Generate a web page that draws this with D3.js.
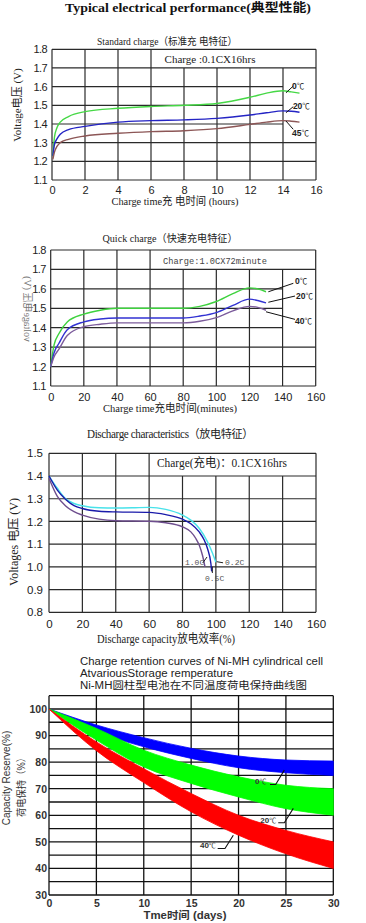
<!DOCTYPE html>
<html>
<head>
<meta charset="utf-8">
<script src="https://cdn.jsdelivr.net/npm/d3@7"></script>
<style>
    body { margin: 0; background: #fff; }
    svg { display: block; }
</style>
</head>
<body>
<svg id="sheet" width="366" height="923"></svg>
<script>
const SERIF = '"Liberation Serif", "Times New Roman", "Noto Sans CJK SC", serif';
const SANS = '"Liberation Sans", Arial, "Noto Sans CJK SC", sans-serif';
const MONO = '"Liberation Mono", "Courier New", "Noto Sans CJK SC", monospace';

// ---- standard charge (hours -> V)
const stdHours = [0.05, 0.15, 0.3, 0.5, 1, 2, 4, 6, 8, 10, 12, 13, 14, 14.5, 15];
const std0C  = [1.23, 1.33, 1.38, 1.41, 1.44, 1.466, 1.484, 1.494, 1.50, 1.51, 1.543, 1.565, 1.578, 1.572, 1.565];
const std20C = [1.23, 1.29, 1.32, 1.345, 1.37, 1.387, 1.41, 1.418, 1.422, 1.43, 1.448, 1.46, 1.47, 1.468, 1.463];
const std45C = [1.21, 1.25, 1.28, 1.30, 1.318, 1.336, 1.35, 1.359, 1.364, 1.375, 1.398, 1.41, 1.418, 1.415, 1.41];
const hourTicks = [0, 2, 4, 6, 8, 10, 12, 14, 16];
const voltTicks = [1.1, 1.2, 1.3, 1.4, 1.5, 1.6, 1.7, 1.8];

// ---- quick charge (minutes -> V)
const quickMin = [0, 2, 5, 10, 20, 30, 40, 60, 80, 90, 100, 110, 120, 125, 130];
const quick0C  = [1.2, 1.31, 1.37, 1.43, 1.47, 1.49, 1.5, 1.5, 1.5, 1.51, 1.535, 1.575, 1.605, 1.60, 1.585];
const quick20C = [1.2, 1.27, 1.32, 1.39, 1.43, 1.445, 1.45, 1.45, 1.45, 1.46, 1.478, 1.515, 1.547, 1.54, 1.528];
const quick40C = [1.2, 1.25, 1.29, 1.36, 1.405, 1.418, 1.425, 1.425, 1.425, 1.433, 1.452, 1.487, 1.51, 1.505, 1.49];
const minuteTicks = [0, 20, 40, 60, 80, 100, 120, 140, 160];

// ---- discharge (% capacity -> V)
const dis02Cap = [0, 5, 10, 15, 20, 30, 40, 50, 60, 70, 80, 85, 90, 95, 98, 100];
const dis02V   = [1.40, 1.346, 1.30, 1.279, 1.269, 1.26, 1.259, 1.26, 1.262, 1.253, 1.228, 1.206, 1.17, 1.11, 1.06, 1.02];
const dis05Cap = [0, 5, 10, 15, 20, 30, 40, 60, 70, 80, 85, 90, 93, 95, 97, 97.5];
const dis05V   = [1.40, 1.338, 1.297, 1.27, 1.257, 1.245, 1.242, 1.24, 1.23, 1.21, 1.19, 1.154, 1.118, 1.08, 1.015, 0.98];
const dis10Cap = [0, 5, 10, 15, 20, 30, 40, 60, 70, 80, 85, 88, 90, 92, 93.5];
const dis10V   = [1.39, 1.31, 1.268, 1.243, 1.228, 1.21, 1.203, 1.201, 1.194, 1.176, 1.154, 1.125, 1.096, 1.05, 1.0];
const dischargeVTicks = [0.8, 0.9, 1.0, 1.1, 1.2, 1.3, 1.4, 1.5];

// ---- charge retention (days -> %), bands hi/lo
const retDays = [0, 5, 10, 15, 20, 25, 30];
const ret0Hi  = [100, 94.0, 89.2, 85.2, 82.3, 80.8, 80.4];
const ret0Lo  = [100, 91.4, 85.8, 81.4, 77.9, 76.0, 75.0];
const ret20Hi = [100, 92.7, 84.5, 78.9, 74.5, 71.3, 70.0];
const ret20Lo = [100, 88.3, 78.2, 72.0, 66.9, 62.5, 60.0];
const ret40Hi = [100, 87.6, 77.5, 68.2, 60.0, 54.3, 50.0];
const ret40Lo = [100, 84.3, 72.3, 61.3, 52.5, 45.5, 40.0];
const dayTicks = [0, 5, 10, 15, 20, 25, 30];
const pctTicks = [30, 40, 50, 60, 70, 80, 90, 100];

let svg = d3.select("#sheet");

function zip(xs, ys) {
    return xs.map(function(v, i) { return [v, ys[i]]; });
}

// grid: h = [value, right end], v = [value, top end]
function drawPanel(cfg) {
    let x = d3.scaleLinear().domain(cfg.xDomain).range(cfg.xRange);
    let y = d3.scaleLinear().domain(cfg.yDomain).range(cfg.yRange);
    let g = svg.append("g").attr("id", cfg.id);

    g.selectAll("line.h").data(cfg.hGrid).enter().append("line")
        .attr("class", "h")
        .attr("x1", x(cfg.xDomain[0]))
        .attr("x2", function(d) { return x(d[1]); })
        .attr("y1", function(d) { return y(d[0]); })
        .attr("y2", function(d) { return y(d[0]); })
        .attr("stroke", cfg.gridColor)
        .attr("stroke-width", cfg.gridWidth);

    g.selectAll("line.v").data(cfg.vGrid).enter().append("line")
        .attr("class", "v")
        .attr("x1", function(d) { return x(d[0]); })
        .attr("x2", function(d) { return x(d[0]); })
        .attr("y1", function(d) { return y(d[1]); })
        .attr("y2", y(cfg.yDomain[0]))
        .attr("stroke", cfg.gridColor)
        .attr("stroke-width", cfg.gridWidth);

    let yAxis = d3.axisLeft(y).tickValues(cfg.yTicks).tickSize(0)
        .tickPadding(cfg.yPad).tickFormat(cfg.yFormat);
    let yg = g.append("g")
        .attr("transform", "translate(" + x(cfg.xDomain[0]) + ",0)")
        .call(yAxis);
    yg.select(".domain").remove();

    let xAxis = d3.axisBottom(x).tickValues(cfg.xTicks).tickSize(0)
        .tickPadding(cfg.xPad).tickFormat(d3.format("d"));
    let xg = g.append("g")
        .attr("transform", "translate(0," + y(cfg.yDomain[0]) + ")")
        .call(xAxis);
    xg.select(".domain").remove();

    [yg, xg].forEach(function(ag) {
        ag.attr("font-family", SANS).attr("font-size", cfg.tickSize);
        ag.selectAll("text").attr("fill", cfg.tickColor).attr("font-weight", cfg.tickWeight || "normal");
    });
    if (cfg.yLetter) yg.selectAll("text").attr("letter-spacing", cfg.yLetter);

    return {x: x, y: y, g: g};
}

function drawCurves(p, series) {
    let line = d3.line()
        .x(function(d) { return p.x(d[0]); })
        .y(function(d) { return p.y(d[1]); })
        .curve(d3.curveMonotoneX);
    p.g.selectAll("path.curve").data(series).enter().append("path")
        .attr("class", "curve")
        .attr("d", function(s) { return line(s.pts); })
        .attr("fill", "none")
        .attr("stroke", function(s) { return s.color; })
        .attr("stroke-width", 1.4);
}

function drawLeaders(p, notes, opts) {
    let line = d3.line()
        .x(function(d) { return p.x(d[0]); })
        .y(function(d) { return p.y(d[1]); });
    notes.forEach(function(n) {
        p.g.append("path")
            .attr("d", line(n.leader))
            .attr("fill", "none")
            .attr("stroke", opts.lineColor)
            .attr("stroke-width", opts.lineWidth);
        let t = p.g.append("text")
            .attr("x", p.x(n.at[0]))
            .attr("y", p.y(n.at[1]))
            .attr("font-family", opts.font)
            .attr("font-size", opts.size)
            .attr("fill", opts.color);
        t.append("tspan").attr("font-weight", opts.weight).text(n.num);
        if (n.unit) t.append("tspan").attr("font-weight", "normal").attr("font-size", opts.size - 1).text(n.unit);
    });
}

function label(txt, x, y, o) {
    let t = svg.append("text")
        .attr("x", x).attr("y", y)
        .attr("font-family", o.font || SERIF)
        .attr("font-size", o.size || 11)
        .attr("fill", o.color || "#222")
        .attr("font-weight", o.weight || "normal")
        .attr("text-anchor", o.anchor || "middle")
        .text(txt);
    if (o.rotate) t.attr("transform", "translate(" + x + "," + y + ") rotate(" + o.rotate + ")" + (o.flip ? " scale(1,-1)" : ""))
        .attr("x", 0).attr("y", 0);
    if (o.len) t.attr("textLength", o.len).attr("lengthAdjust", "spacingAndGlyphs");
    if (o.spacing) t.attr("letter-spacing", o.spacing);
    return t;
}

// page title
label("Typical electrical performance(典型性能)", 188, 12, {size: 12.5, weight: "bold", color: "#111", len: 246});

// ===== 1. standard charge
let p1 = drawPanel({
    id: "std",
    xDomain: [0, 16], xRange: [52, 316],
    yDomain: [1.1, 1.8], yRange: [180, 49.3],
    hGrid: [[1.1, 16], [1.2, 16], [1.3, 16], [1.4, 14], [1.5, 14], [1.6, 14], [1.7, 16], [1.8, 16]],
    vGrid: [[0, 1.8], [2, 1.8], [4, 1.8], [6, 1.8], [8, 1.7], [10, 1.7], [12, 1.7], [14, 1.7], [16, 1.8]],
    gridColor: "#2a2a2a", gridWidth: 1.2,
    xTicks: hourTicks, yTicks: voltTicks, yFormat: d3.format(".1f"),
    xPad: 6, yPad: 5, tickSize: 11, tickColor: "#222", yLetter: -0.6
});
drawCurves(p1, [
    {pts: zip(stdHours, std0C), color: "#46d846"},
    {pts: zip(stdHours, std20C), color: "#2424c4"},
    {pts: zip(stdHours, std45C), color: "#8c5656"}
]);
drawLeaders(p1, [
    {num: "0", unit: "℃", at: [14.55, 1.587], leader: [[14.18, 1.567], [14.62, 1.603]]},
    {num: "20", unit: "℃", at: [14.6, 1.48], leader: [[14.18, 1.4605], [14.62, 1.4926]]},
    {num: "45", unit: "℃", at: [14.55, 1.336], leader: [[14.18, 1.416], [14.62, 1.3716]]}
], {font: SANS, size: 8.5, weight: "bold", color: "#222", lineColor: "#111", lineWidth: 1});
label("Standard charge（标准充 电特征）", 167, 44.5, {size: 10.5, len: 140});
label("Charge :0.1CX16hrs", 210, 63, {size: 11});
label("Voltage电压 (V)", 21, 105, {size: 11, rotate: -90});
label("Charge time充 电时间 (hours)", 175, 205, {size: 11, len: 127});

// ===== 2. quick charge
let p2 = drawPanel({
    id: "quick",
    xDomain: [0, 160], xRange: [50.7, 315.7],
    yDomain: [1.1, 1.8], yRange: [386, 250],
    hGrid: [[1.1, 160], [1.2, 160], [1.3, 160], [1.4, 140], [1.5, 140], [1.6, 140], [1.7, 160], [1.8, 160]],
    vGrid: [[0, 1.8], [20, 1.8], [40, 1.8], [60, 1.8], [80, 1.7], [100, 1.7], [120, 1.7], [140, 1.7], [160, 1.8]],
    gridColor: "#2a2a2a", gridWidth: 1.2,
    xTicks: minuteTicks, yTicks: voltTicks, yFormat: d3.format(".1f"),
    xPad: 7, yPad: 5, tickSize: 11, tickColor: "#222", yLetter: -0.6
});
drawCurves(p2, [
    {pts: zip(quickMin, quick0C), color: "#3ed23e"},
    {pts: zip(quickMin, quick20C), color: "#3232d2"},
    {pts: zip(quickMin, quick40C), color: "#7c5c9c"}
]);
drawLeaders(p2, [
    {num: "0", unit: "℃", at: [147.5, 1.623], leader: [[131.4, 1.585], [146.5, 1.6286]]},
    {num: "20", unit: "℃", at: [148.1, 1.548], leader: [[131.4, 1.531], [147.5, 1.563]]},
    {num: "40", unit: "℃", at: [147.5, 1.419], leader: [[130, 1.482], [147.5, 1.443]]}
], {font: SANS, size: 8.5, weight: "bold", color: "#222", lineColor: "#111", lineWidth: 1});
label("Quick charge（快速充电特征）", 170, 241.5, {size: 10.5, len: 135});
label("Charge:1.0CX72minute", 215, 264, {font: MONO, size: 8.8, color: "#444", len: 104});
label("voltage电压 (V)", 24, 309, {size: 10, color: "#777", rotate: -90, flip: true});
label("Charge time充电时间(minutes)", 170, 411.5, {size: 11, len: 134});

// ===== 3. discharge
let p3 = drawPanel({
    id: "discharge",
    xDomain: [0, 160], xRange: [49, 316],
    yDomain: [0.8, 1.5], yRange: [612.3, 453.3],
    hGrid: dischargeVTicks.map(function(v) { return [v, 160]; }),
    vGrid: [[0, 1.5], [20, 1.5], [40, 1.5], [60, 1.5], [80, 1.4], [100, 1.4], [120, 1.4], [140, 1.4], [160, 1.5]],
    gridColor: "#2a2a2a", gridWidth: 1.2,
    xTicks: minuteTicks, yTicks: dischargeVTicks, yFormat: d3.format(".1f"),
    xPad: 8, yPad: 6, tickSize: 11.5, tickColor: "#222"
});
drawCurves(p3, [
    {pts: zip(dis02Cap, dis02V), color: "#48e2ea"},
    {pts: zip(dis05Cap, dis05V), color: "#1a1aaa"},
    {pts: zip(dis10Cap, dis10V), color: "#6e4e8e"}
]);
drawLeaders(p3, [
    {num: "1.0C", at: [81.5, 1.008], leader: [[92.1, 1.017], [94.7, 1.0435]]},
    {num: "0.5C", at: [93.5, 0.938], leader: [[97.9, 1.0008], [97.9, 0.973]]},
    {num: "0.2C", at: [105.5, 1.008], leader: [[100.5, 1.0228], [104.3, 1.018]]}
], {font: MONO, size: 8, weight: "normal", color: "#555", lineColor: "#222", lineWidth: 1});
label("Discharge characteristics（放电特征）", 170, 438, {size: 11.5, len: 166, spacing: -0.4});
label("Charge(充电)：0.1CX16hrs", 222, 466.5, {size: 12, len: 130});
label("Voltages 电压 (V)", 18, 542, {size: 12, rotate: -90});
label("Discharge capacity放电效率(%)", 166, 643, {size: 12, len: 138});

// ===== 4. charge retention
let p4 = drawPanel({
    id: "retention",
    xDomain: [0, 30], xRange: [49, 333.3],
    yDomain: [30, 105], yRange: [895, 695.7],
    hGrid: d3.range(30, 106, 5).map(function(v) { return [v, 30]; }),
    vGrid: dayTicks.map(function(v) { return [v, 105]; }),
    gridColor: "#111", gridWidth: 1.3,
    xTicks: dayTicks, yTicks: pctTicks, yFormat: d3.format("d"),
    xPad: 5, yPad: 2, tickSize: 10.5, tickColor: "#333", tickWeight: "bold"
});
let band = d3.area()
    .x(function(d) { return p4.x(d[0]); })
    .y0(function(d) { return p4.y(d[2]); })
    .y1(function(d) { return p4.y(d[1]); })
    .curve(d3.curveMonotoneX);
let bands = [
    {color: "#0000ff", rows: retDays.map(function(d, i) { return [d, ret0Hi[i], ret0Lo[i]]; })},
    {color: "#00ff00", rows: retDays.map(function(d, i) { return [d, ret20Hi[i], ret20Lo[i]]; })},
    {color: "#ff0000", rows: retDays.map(function(d, i) { return [d, ret40Hi[i], ret40Lo[i]]; })}
];
p4.g.selectAll("path.band").data(bands).enter().append("path")
    .attr("class", "band")
    .attr("d", function(b) { return band(b.rows); })
    .attr("fill", function(b) { return b.color; })
    .attr("stroke", function(b) { return b.color; })
    .attr("stroke-width", 0.8);
drawLeaders(p4, [
    {num: "0", unit: "℃", at: [21.75, 71.6], leader: [[23.32, 71.6], [23.92, 71.6], [24.83, 77.0]]},
    {num: "20", unit: "℃", at: [22.3, 57.2], leader: [[24.19, 57.2], [24.83, 57.2], [25.78, 62.6]]},
    {num: "40", unit: "℃", at: [15.93, 47.5], leader: [[17.8, 47.5], [18.57, 47.5], [19.45, 52.5]]}
], {font: SANS, size: 8, weight: "bold", color: "#333", lineColor: "#111", lineWidth: 1.1});
label("Charge retention curves of Ni-MH cylindrical cell", 80, 665, {font: SANS, size: 10, anchor: "start", len: 243, color: "#222"});
label("AtvariousStorage remperature", 80, 677, {font: SANS, size: 10, anchor: "start", len: 153, color: "#222"});
label("Ni-MH圆柱型电池在不同温度荷电保持曲线图", 80, 689, {font: SANS, size: 10, anchor: "start", len: 227, color: "#222"});
label("Capacity Reserve(%)", 10, 778, {font: SANS, size: 10, rotate: -90, color: "#333"});
label("荷电保持（%）", 25, 785, {font: SANS, size: 10, rotate: -90, color: "#333", len: 64});
label("Tme时间  (days)", 185, 918.5, {font: SANS, size: 10.5, weight: "bold", color: "#333", len: 83});
</script>
</body>
</html>
